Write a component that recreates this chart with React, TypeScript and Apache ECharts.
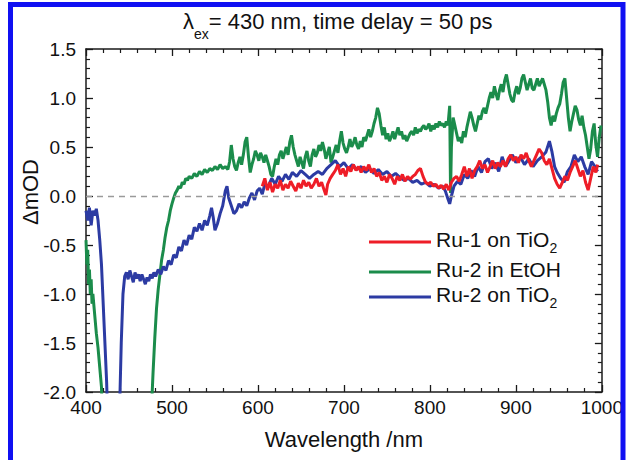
import React, { useEffect, useRef } from "react";
import * as echarts from "echarts";

const FONT = "Liberation Sans, Arial, Helvetica, sans-serif";

const titleMain = "= 430 nm, time delay = 50 ps";
const xAxisName = "Wavelength /nm";
const yAxisName = "ΔmOD";
const seriesNames = ["Ru-1 on TiO2", "Ru-2 in EtOH", "Ru-2 on TiO2"];
const seriesColors = ["#ee1d27", "#1b8c4b", "#2c3ba3"];

// Ru-1 on TiO2 : [wavelength nm, ΔmOD]
const ru1OnTiO2 = [
  [605, 0.1], [608, 0.18], [611, 0.06], [614, 0.14], [617, 0.04], [620, 0.12], [623, 0.08], [626, 0.16],
  [629, 0.06], [632, 0.12], [635, 0.08], [638, 0.15], [641, 0.1], [644, 0.05], [647, 0.13], [650, 0.08],
  [653, 0.16], [656, 0.1], [659, 0.14], [662, 0.08], [665, 0.12], [668, 0.18], [671, 0.1], [674, 0.14],
  [677, 0.06], [679, 0.01], [681, 0.12], [684, 0.18], [687, 0.22], [690, 0.26], [693, 0.32], [696, 0.22],
  [699, 0.28], [702, 0.2], [705, 0.3], [708, 0.25], [711, 0.32], [714, 0.26], [717, 0.3], [720, 0.24],
  [723, 0.3], [726, 0.26], [729, 0.32], [732, 0.24], [735, 0.28], [738, 0.2], [741, 0.24], [744, 0.16],
  [747, 0.2], [750, 0.14], [753, 0.22], [756, 0.18], [759, 0.12], [762, 0.2], [765, 0.16], [768, 0.22],
  [771, 0.15], [774, 0.2], [777, 0.17], [780, 0.2], [783, 0.22], [786, 0.26], [789, 0.28], [792, 0.2],
  [795, 0.14], [798, 0.12], [801, 0.14], [804, 0.1], [807, 0.12], [810, 0.08], [813, 0.11], [816, 0.07],
  [819, 0.12], [822, 0.06], [825, 0.14], [828, 0.18], [831, 0.2], [834, 0.15], [837, 0.22], [840, 0.3],
  [843, 0.2], [846, 0.28], [849, 0.18], [852, 0.26], [855, 0.3], [858, 0.36], [861, 0.28], [864, 0.32],
  [867, 0.24], [870, 0.3], [873, 0.36], [876, 0.28], [879, 0.34], [882, 0.3], [885, 0.36], [888, 0.3],
  [891, 0.38], [894, 0.42], [897, 0.36], [900, 0.4], [903, 0.34], [906, 0.42], [909, 0.38], [912, 0.44],
  [915, 0.36], [918, 0.3], [921, 0.36], [924, 0.42], [927, 0.48], [930, 0.44], [933, 0.36], [936, 0.32],
  [939, 0.38], [942, 0.28], [945, 0.18], [948, 0.12], [951, 0.08], [954, 0.14], [957, 0.2], [960, 0.16],
  [963, 0.24], [966, 0.3], [969, 0.36], [972, 0.28], [975, 0.2], [978, 0.26], [981, 0.14], [984, 0.06],
  [987, 0.18], [990, 0.3], [993, 0.24], [995, 0.32],
];

// Ru-2 in EtOH
const ru2InEtOH = [
  [400, -0.45], [401, -0.7], [402, -0.55], [403, -0.9], [404, -0.75], [405, -1.0], [406, -0.85], [407, -1.1],
  [408, -1.0], [410, -1.2], [412, -1.4], [414, -1.55], [416, -1.75], [418, -1.95], [419, -2.2],
  [420, null],
  [476, -2.2], [478, -1.8], [480, -1.45], [482, -1.15], [484, -0.95], [486, -0.8], [488, -0.65], [490, -0.55],
  [492, -0.42], [494, -0.32], [496, -0.25], [498, -0.15], [500, -0.08], [502, -0.02], [504, 0.03], [506, 0.06],
  [508, 0.1], [510, 0.08], [512, 0.14], [514, 0.12], [516, 0.18], [518, 0.16], [520, 0.2], [523, 0.18],
  [526, 0.23], [529, 0.2], [532, 0.25], [535, 0.22], [538, 0.27], [541, 0.24], [544, 0.28], [547, 0.26],
  [550, 0.3], [553, 0.27], [556, 0.32], [559, 0.28], [562, 0.3], [565, 0.27], [567, 0.35], [569, 0.52],
  [571, 0.38], [573, 0.3], [575, 0.26], [577, 0.34], [579, 0.4], [581, 0.32], [583, 0.42], [585, 0.55],
  [587, 0.6], [589, 0.4], [591, 0.24], [593, 0.32], [595, 0.38], [597, 0.46], [599, 0.42], [601, 0.36],
  [603, 0.44], [605, 0.4], [607, 0.34], [609, 0.42], [611, 0.36], [613, 0.3], [615, 0.22], [617, 0.2],
  [619, 0.3], [621, 0.38], [623, 0.32], [625, 0.42], [627, 0.46], [629, 0.38], [631, 0.44], [633, 0.5],
  [635, 0.42], [637, 0.55], [639, 0.62], [641, 0.5], [643, 0.42], [645, 0.36], [647, 0.3], [649, 0.4],
  [651, 0.34], [653, 0.28], [655, 0.4], [657, 0.46], [659, 0.36], [661, 0.3], [663, 0.42], [665, 0.48],
  [667, 0.4], [669, 0.44], [671, 0.52], [673, 0.46], [675, 0.55], [677, 0.48], [679, 0.38], [681, 0.44],
  [683, 0.5], [685, 0.34], [687, 0.4], [689, 0.46], [691, 0.52], [693, 0.44], [695, 0.56], [697, 0.66],
  [699, 0.54], [701, 0.48], [703, 0.44], [705, 0.5], [707, 0.58], [709, 0.5], [711, 0.54], [713, 0.6],
  [715, 0.52], [717, 0.48], [719, 0.56], [721, 0.5], [723, 0.6], [725, 0.56], [727, 0.62], [729, 0.68],
  [731, 0.6], [733, 0.66], [735, 0.74], [737, 0.8], [739, 0.9], [741, 0.84], [743, 0.72], [745, 0.62],
  [747, 0.7], [749, 0.58], [751, 0.64], [753, 0.56], [755, 0.6], [757, 0.66], [759, 0.58], [761, 0.64],
  [763, 0.7], [765, 0.62], [767, 0.66], [769, 0.58], [771, 0.62], [773, 0.56], [775, 0.6], [777, 0.64],
  [779, 0.66], [781, 0.62], [783, 0.7], [785, 0.64], [787, 0.68], [789, 0.66], [791, 0.7], [793, 0.72],
  [795, 0.68], [797, 0.7], [799, 0.74], [801, 0.66], [803, 0.72], [805, 0.68], [807, 0.74], [809, 0.7],
  [811, 0.76], [813, 0.72], [815, 0.74], [817, 0.7], [819, 0.76], [821, 0.72], [823, 0.92], [824, 0.03],
  [825, 0.5], [827, 0.8], [829, 0.72], [831, 0.64], [833, 0.56], [835, 0.6], [837, 0.54], [839, 0.66],
  [841, 0.6], [843, 0.7], [845, 0.78], [847, 0.86], [849, 0.8], [851, 0.72], [853, 0.66], [855, 0.74],
  [857, 0.82], [859, 0.78], [861, 0.86], [863, 0.9], [865, 0.84], [867, 0.92], [869, 1.0], [871, 1.06],
  [873, 1.0], [875, 1.12], [877, 1.04], [879, 0.98], [881, 1.08], [883, 1.14], [885, 1.06], [887, 1.18],
  [889, 1.24], [891, 1.14], [893, 1.04], [895, 0.98], [897, 0.96], [899, 1.06], [901, 1.12], [903, 1.04],
  [905, 1.1], [907, 1.2], [909, 1.24], [911, 1.16], [913, 1.08], [915, 1.14], [917, 1.2], [919, 1.1],
  [921, 1.08], [923, 1.14], [925, 1.2], [927, 1.12], [929, 1.16], [931, 1.2], [933, 1.14], [935, 1.08],
  [937, 0.96], [939, 0.8], [941, 0.72], [943, 0.82], [945, 0.76], [947, 0.84], [949, 0.9], [951, 0.94],
  [953, 1.04], [955, 1.16], [957, 1.2], [959, 1.0], [961, 0.8], [963, 0.66], [965, 0.76], [967, 0.84],
  [969, 0.92], [971, 0.88], [973, 0.78], [975, 0.72], [977, 0.82], [979, 0.7], [981, 0.62], [983, 0.5],
  [985, 0.38], [987, 0.48], [989, 0.66], [991, 0.74], [993, 0.52], [995, 0.4], [997, 0.6], [999, 0.72],
];

// Ru-2 on TiO2
const ru2OnTiO2 = [
  [400, -0.15], [402, -0.25], [404, -0.12], [406, -0.3], [408, -0.15], [410, -0.2], [412, -0.13], [414, -0.25],
  [416, -0.45], [418, -0.7], [420, -1.1], [422, -1.5], [424, -1.9], [425, -2.2],
  [430, null],
  [439, -2.2], [441, -1.5], [443, -1.0], [445, -0.82], [447, -0.78], [449, -0.85], [451, -0.76], [453, -0.82],
  [455, -0.88], [457, -0.78], [459, -0.84], [461, -0.8], [463, -0.87], [465, -0.8], [467, -0.85], [469, -0.9],
  [471, -0.83], [473, -0.87], [475, -0.8], [477, -0.84], [479, -0.78], [481, -0.82], [484, -0.75], [487, -0.8],
  [490, -0.72], [493, -0.76], [496, -0.66], [499, -0.7], [502, -0.6], [505, -0.63], [508, -0.52], [511, -0.56],
  [514, -0.45], [517, -0.5], [520, -0.4], [523, -0.44], [526, -0.32], [529, -0.36], [532, -0.28], [535, -0.35],
  [538, -0.25], [541, -0.3], [544, -0.2], [546, -0.12], [548, -0.22], [550, -0.35], [553, -0.28], [556, -0.18],
  [559, -0.1], [562, 0.05], [564, 0.1], [566, -0.02], [569, -0.1], [572, -0.18], [575, -0.15], [578, -0.08],
  [581, -0.12], [584, -0.06], [587, -0.1], [590, -0.02], [593, 0.03], [596, -0.04], [599, 0.05], [602, 0.08],
  [605, 0.02], [608, 0.12], [612, 0.1], [616, 0.18], [620, 0.12], [624, 0.2], [628, 0.15], [632, 0.22],
  [636, 0.17], [640, 0.24], [645, 0.2], [650, 0.26], [655, 0.22], [660, 0.18], [665, 0.22], [670, 0.25],
  [675, 0.22], [680, 0.28], [685, 0.32], [690, 0.36], [695, 0.3], [700, 0.34], [705, 0.28], [710, 0.32],
  [715, 0.27], [720, 0.3], [725, 0.24], [730, 0.28], [735, 0.23], [740, 0.27], [745, 0.22], [750, 0.25],
  [755, 0.2], [760, 0.23], [765, 0.19], [770, 0.16], [775, 0.18], [780, 0.14], [785, 0.16], [790, 0.12],
  [795, 0.14], [800, 0.1], [805, 0.12], [810, 0.08], [815, 0.1], [818, 0.05], [821, -0.03], [823, -0.08],
  [825, 0.0], [828, 0.1], [832, 0.15], [836, 0.12], [840, 0.22], [844, 0.18], [848, 0.26], [852, 0.2],
  [856, 0.3], [860, 0.24], [864, 0.35], [868, 0.38], [872, 0.28], [876, 0.34], [880, 0.25], [884, 0.4],
  [888, 0.3], [892, 0.36], [896, 0.42], [900, 0.34], [905, 0.4], [910, 0.32], [915, 0.38], [920, 0.3],
  [925, 0.36], [930, 0.4], [935, 0.45], [939, 0.56], [942, 0.45], [945, 0.3], [948, 0.24], [952, 0.18],
  [956, 0.14], [960, 0.25], [964, 0.3], [968, 0.42], [972, 0.35], [976, 0.4], [980, 0.3], [984, 0.22],
  [988, 0.35], [992, 0.3], [995, 0.25],
];

const legendRich: Record<string, string> = {
  "Ru-1 on TiO2": "{a|Ru-1 on TiO}{s|2}",
  "Ru-2 in EtOH": "{a|Ru-2 in EtOH}",
  "Ru-2 on TiO2": "{a|Ru-2 on TiO}{s|2}",
};
const legendTops = [224, 254, 279];

export default function App() {
  const ref = useRef<HTMLDivElement>(null);
  useEffect(() => {
    document.body.style.margin = "0";
    const chart = echarts.init(ref.current!, undefined, { renderer: "svg" });
    const axisLine = { show: true, onZero: false, lineStyle: { color: "#1a1a1a", width: 1.5 } };
    const tick = { show: true, inside: true, length: 7, lineStyle: { color: "#1a1a1a", width: 1.3 } };
    const minor = { show: true, splitNumber: 5, length: 4, lineStyle: { color: "#1a1a1a", width: 1.2 } };
    const lineSeries = (name: string, data: any[], color: string, z: number, extra: any = {}) => ({
      name,
      type: "line",
      data,
      showSymbol: false,
      symbol: "none",
      clip: true,
      z,
      lineStyle: { color, width: 3 },
      itemStyle: { color },
      ...extra,
    });
    chart.setOption({
      animation: false,
      backgroundColor: "#ffffff",
      textStyle: { fontFamily: FONT },
      title: {
        text: "{l|λ}{s|ex}{m|" + titleMain + "}",
        left: 178,
        top: 5,
        textStyle: {
          fontWeight: "normal",
          rich: {
            l: { fontFamily: FONT, fontSize: 22, fontWeight: "normal", color: "#111", lineHeight: 25, verticalAlign: "top" },
            s: { fontFamily: FONT, fontSize: 14, fontWeight: "normal", color: "#111", lineHeight: 14, padding: [17, 0, 0, 0], verticalAlign: "top" },
            m: { fontFamily: FONT, fontSize: 22, fontWeight: "normal", color: "#111", lineHeight: 25, verticalAlign: "top" },
          },
        },
      },
      grid: { left: 86, right: 20, top: 49, bottom: 68, containLabel: false },
      legend: seriesNames.map((n, i) => ({
        orient: "vertical",
        left: 364,
        top: legendTops[i],
        icon: "rect",
        itemWidth: 62,
        itemHeight: 3,
        data: [n],
        formatter: (name: string) => legendRich[name],
        textStyle: {
          rich: {
            a: { fontFamily: FONT, fontSize: 21, color: "#111", lineHeight: 26, verticalAlign: "top" },
            s: { fontFamily: FONT, fontSize: 14, color: "#111", lineHeight: 14, padding: [12, 0, 0, 0], verticalAlign: "top" },
          },
        },
      })),
      xAxis: [
        {
          type: "value",
          min: 400,
          max: 1000,
          interval: 100,
          position: "bottom",
          name: xAxisName,
          nameLocation: "middle",
          nameGap: 36,
          nameTextStyle: { fontFamily: FONT, fontSize: 22, color: "#111" },
          axisLine,
          axisTick: tick,
          minorTick: minor,
          splitLine: { show: false },
          axisLabel: { fontFamily: FONT, fontSize: 19, color: "#111", margin: 6, formatter: (v: number) => String(v) },
        },
        {
          type: "value",
          min: 400,
          max: 1000,
          interval: 100,
          position: "top",
          axisLine,
          axisTick: tick,
          minorTick: minor,
          splitLine: { show: false },
          axisLabel: { show: false },
        },
      ],
      yAxis: [
        {
          type: "value",
          min: -2,
          max: 1.5,
          interval: 0.5,
          position: "left",
          axisLine,
          axisTick: tick,
          minorTick: minor,
          splitLine: { show: false },
          axisLabel: { fontFamily: FONT, fontSize: 19, color: "#111", margin: 10, formatter: (v: number) => v.toFixed(1) },
        },
        {
          type: "value",
          min: -2,
          max: 1.5,
          interval: 0.5,
          position: "right",
          axisLine,
          axisTick: tick,
          minorTick: minor,
          splitLine: { show: false },
          axisLabel: { show: false },
        },
      ],
      series: [
        lineSeries(seriesNames[1], ru2InEtOH, seriesColors[1], 2, {
          markLine: {
            silent: true,
            symbol: ["none", "none"],
            label: { show: false },
            lineStyle: { color: "#9a9a9a", type: [6, 5], width: 1.4 },
            data: [{ yAxis: 0 }],
          },
        }),
        lineSeries(seriesNames[2], ru2OnTiO2, seriesColors[2], 3),
        lineSeries(seriesNames[0], ru1OnTiO2, seriesColors[0], 4),
      ],
      graphic: [
        {
          type: "text",
          x: 30,
          y: 192,
          rotation: Math.PI / 2,
          style: {
            text: yAxisName,
            font: "22px " + FONT,
            fill: "#111",
            align: "center",
            verticalAlign: "middle",
          },
        },
        {
          type: "rect",
          shape: { x: 10.5, y: 4.5, width: 612.5, height: 500 },
          style: { fill: "none", stroke: "#1010f2", lineWidth: 5 },
          silent: true,
          z: 100,
        },
      ],
    });
    return () => chart.dispose();
  }, []);
  return <div ref={ref} style={{ position: "fixed", left: 0, top: 0, width: 626, height: 460 }} />;
}
